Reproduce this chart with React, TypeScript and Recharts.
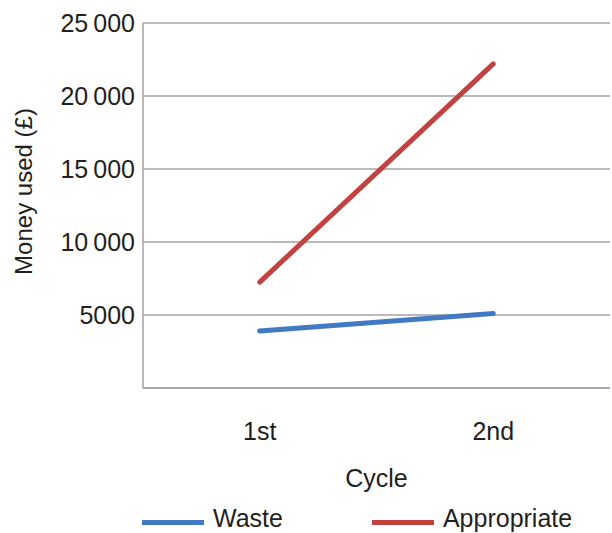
import { CartesianGrid, Label, Legend, Line, LineChart, XAxis, YAxis } from "recharts";

const cycles = ["1st", "2nd"];
const waste = [3900, 5100];
const appropriate = [7250, 22200];
const yTicks = [5000, 10000, 15000, 20000, 25000];
const seriesOrder = ["Waste", "Appropriate"];

const data = cycles.map((cycle, i) => ({
  cycle,
  waste: waste[i],
  appropriate: appropriate[i],
}));

const font = "'Liberation Sans', Arial, Helvetica, sans-serif";
const gray = "#a3a3a3";
const ink = "#231f20";
const tickStyle = { fill: ink, fontSize: 25, fontFamily: font };

// 25000 -> "25 000" with a thin space, 5000 stays as is
const formatTick = (v: number) =>
  v >= 10000 ? `${Math.floor(v / 1000)}\u2009${String(v % 1000).padStart(3, "0")}` : String(v);

function LegendContent({ payload }: any) {
  const items = [...(payload ?? [])].sort(
    (a: any, b: any) => seriesOrder.indexOf(a.value) - seriesOrder.indexOf(b.value),
  );
  return (
    <div
      style={{
        display: "flex",
        alignItems: "center",
        height: 30,
        paddingLeft: 142,
        fontFamily: font,
        fontSize: 25,
        color: ink,
      }}
    >
      {items.map((p: any, i: number) => (
        <div
          key={p.value}
          style={{ display: "flex", alignItems: "center", marginRight: i === 0 ? 89 : 0 }}
        >
          <span
            style={{
              display: "inline-block",
              width: 62,
              height: 5,
              marginTop: 8,
              marginRight: 9,
              background: p.color,
            }}
          />
          <span>{p.value}</span>
        </div>
      ))}
    </div>
  );
}

function YLabel({ viewBox }: any) {
  const x = viewBox.x + 32;
  const y = viewBox.y + viewBox.height / 2 - 14;
  return (
    <text
      x={x}
      y={y}
      transform={`rotate(-90, ${x}, ${y})`}
      textAnchor="middle"
      fill={ink}
      fontSize={24}
      fontFamily={font}
    >
      Money used (£)
    </text>
  );
}

export default function App() {
  return (
    <div style={{ position: "absolute", left: 0, top: 0, background: "#fff" }}>
      <LineChart width={612} height={533} data={data} margin={{ top: 23, right: 2, bottom: 0, left: 0 }}>
        <CartesianGrid vertical={false} stroke={gray} strokeWidth={1.5} />
        <XAxis
          dataKey="cycle"
          scale="band"
          height={115}
          tick={tickStyle}
          tickLine={false}
          tickMargin={28}
          axisLine={{ stroke: gray, strokeWidth: 1.5 }}
        >
          <Label value="Cycle" position="insideBottom" offset={16} fill={ink} fontSize={25} fontFamily={font} />
        </XAxis>
        <YAxis
          width={143}
          domain={[0, 25000]}
          ticks={yTicks}
          tickFormatter={formatTick}
          tick={tickStyle}
          tickLine={false}
          axisLine={{ stroke: gray, strokeWidth: 1.5 }}
        >
          <Label content={<YLabel />} />
        </YAxis>
        <Legend verticalAlign="bottom" align="left" wrapperStyle={{ left: 0 }} content={<LegendContent />} />
        <Line
          name="Waste"
          dataKey="waste"
          stroke="#4179c2"
          strokeWidth={5}
          strokeLinecap="round"
          dot={false}
          isAnimationActive={false}
        />
        <Line
          name="Appropriate"
          dataKey="appropriate"
          stroke="#c2423f"
          strokeWidth={5}
          strokeLinecap="round"
          dot={false}
          isAnimationActive={false}
        />
      </LineChart>
    </div>
  );
}
